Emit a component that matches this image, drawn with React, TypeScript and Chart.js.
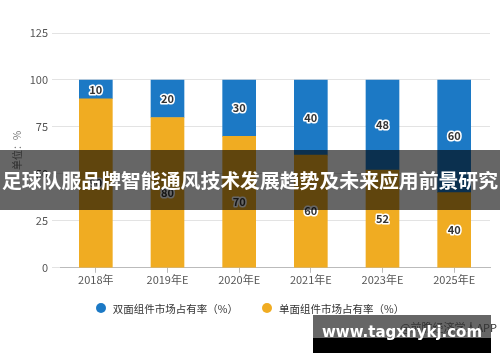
import React, { useEffect, useRef } from "react";
import { Chart, registerables } from "chart.js";

Chart.register(...registerables);

const categories = ["2018年", "2019年E", "2020年E", "2021年E", "2023年E", "2025年E"];
const doubleSided = [10, 20, 30, 40, 48, 60];
const singleSided = [90, 80, 70, 60, 52, 40];
const seriesNames = ["双面组件市场占有率（%）", "单面组件市场占有率（%）"];
const yTicks = [0, 25, 50, 75, 100, 125];
const bannerText = "足球队服品牌智能通风技术发展趋势及未来应用前景研究";
const siteText = "www.tagxnykj.com";
const sourceText = "@前瞻经济学人APP";

const FONT = "'Noto Sans CJK SC', 'Noto Sans', sans-serif";
const BLUE = "#1C79C5";
const ORANGE = "#F0AC22";
const seriesColors = [BLUE, ORANGE];

const labelPlugin = {
  id: "barLabels",
  afterDatasetsDraw(chart: any) {
    const ctx = chart.ctx;
    ctx.save();
    ctx.font = `bold 11px ${FONT}`;
    ctx.textAlign = "center";
    ctx.textBaseline = "middle";
    ctx.lineJoin = "round";
    chart.data.datasets.forEach((ds: any, di: number) => {
      const meta = chart.getDatasetMeta(di);
      meta.data.forEach((el: any, i: number) => {
        const { x, y, base } = el.getProps(["x", "y", "base"], true);
        const cy = (y + base) / 2;
        const txt = String(ds.data[i]);
        ctx.lineWidth = 3;
        ctx.strokeStyle = "#ffffff";
        ctx.strokeText(txt, x, cy);
        ctx.fillStyle = "#333333";
        ctx.fillText(txt, x, cy);
      });
    });
    ctx.restore();
  },
};

export default function App() {
  const ref = useRef<HTMLCanvasElement>(null);
  useEffect(() => {
    document.body.style.margin = "0";
    const chart = new Chart(ref.current as HTMLCanvasElement, {
      type: "bar",
      data: {
        labels: categories,
        datasets: [
          {
            label: seriesNames[1],
            data: singleSided,
            backgroundColor: ORANGE,
            barThickness: 33,
          },
          {
            label: seriesNames[0],
            data: doubleSided,
            backgroundColor: BLUE,
            barThickness: 33,
          },
        ],
      },
      options: {
        animation: false,
        responsive: false,
        layout: { padding: { top: 33, right: 10, left: 11, bottom: 76 } },
        plugins: {
          legend: { display: false },
          tooltip: { enabled: false },
        },
        scales: {
          x: {
            stacked: true,
            grid: {
              display: true,
              drawOnChartArea: false,
              drawTicks: true,
              tickLength: 5,
              offset: false,
              color: "#bbb",
            },
            border: { color: "#bbb" },
            ticks: { color: "#555", font: { size: 11, family: FONT }, padding: 0 },
          },
          y: {
            stacked: true,
            min: 0,
            max: 125,
            afterBuildTicks: (scale: any) => {
              scale.ticks = yTicks.map((v) => ({ value: v }));
            },
            afterFit: (scale: any) => {
              scale.width = 49;
            },
            grid: { color: "#e3e3e3", tickLength: 8 },
            border: { display: false },
            ticks: { color: "#555", font: { size: 11, family: FONT }, padding: 4 },
            title: {
              display: true,
              text: "单位：%",
              color: "#777",
              font: { size: 10, family: FONT },
              padding: { top: 0, bottom: 2 },
            },
          },
        },
      },
      plugins: [labelPlugin],
    } as any);
    return () => chart.destroy();
  }, []);

  return (
    <div style={{ position: "relative", width: 500, height: 362, background: "#fff", overflow: "hidden" }}>
      <canvas ref={ref} width={500} height={362} style={{ display: "block" }} />
      <div
        style={{
          position: "absolute",
          left: 0,
          width: 500,
          top: 299,
          height: 18,
          display: "flex",
          justifyContent: "center",
          alignItems: "center",
          fontFamily: FONT,
          fontSize: 10.5,
          color: "#333",
          whiteSpace: "nowrap",
        }}
      >
        {seriesNames.map((name, i) => (
          <div
            key={name}
            style={{ display: "flex", alignItems: "center", marginLeft: i === 0 ? 0 : 24 }}
          >
            <span
              style={{
                display: "inline-block",
                width: 10,
                height: 10,
                borderRadius: 5,
                background: seriesColors[i],
                marginRight: 7,
              }}
            />
            <span>{name}</span>
          </div>
        ))}
      </div>
      <div
        style={{
          position: "absolute",
          left: 0,
          top: 150,
          width: 500,
          height: 60,
          background: "rgba(0,0,0,0.6)",
          color: "#fff",
          fontFamily: FONT,
          fontWeight: "bold",
          fontSize: 19.85,
          lineHeight: "60px",
          textAlign: "center",
          whiteSpace: "nowrap",
        }}
      >
        {bannerText}
      </div>
      <div
        style={{
          position: "absolute",
          left: 313,
          top: 315,
          width: 178,
          height: 38,
          background: "linear-gradient(#666 0, #666 60%, #000 60%, #000 100%)",
        }}
      >
        <div
          style={{
            position: "absolute",
            left: 87,
            top: 4,
            color: "#333",
            fontFamily: FONT,
            fontSize: 11,
            whiteSpace: "nowrap",
          }}
        >
          {sourceText}
        </div>
        <div
          style={{
            position: "absolute",
            left: 0,
            width: 178,
            top: 7,
            color: "#fff",
            fontFamily: "'DejaVu Sans', sans-serif",
            fontWeight: "bold",
            fontSize: 15,
            lineHeight: "20px",
            textAlign: "center",
            whiteSpace: "nowrap",
          }}
        >
          {siteText}
        </div>
      </div>
    </div>
  );
}
